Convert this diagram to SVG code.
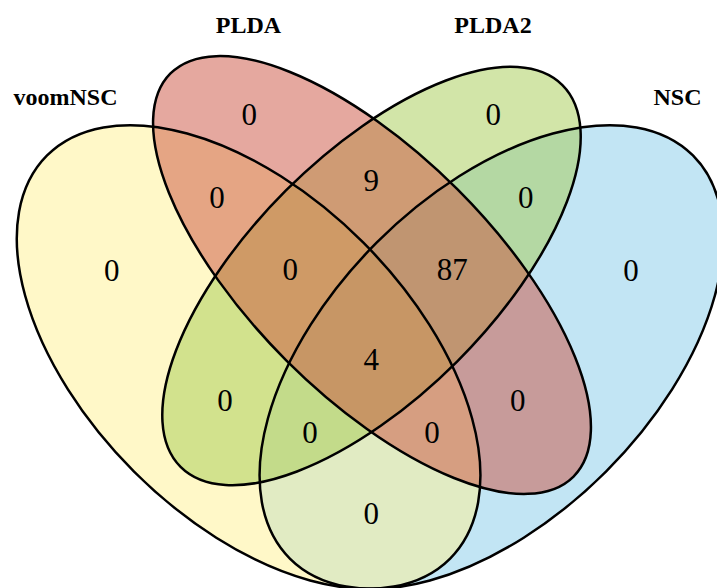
<svg xmlns="http://www.w3.org/2000/svg" width="717" height="588" viewBox="0 0 717 588">
<style>
.fill{fill-opacity:0.5;stroke:none}
.outline{fill:none;stroke:#000;stroke-width:2.5}
.cat{font-family:"Liberation Serif","Times New Roman",serif;font-weight:bold;font-size:24px;fill:#000;text-anchor:middle}
.num{font-family:"Liberation Serif","Times New Roman",serif;font-size:31px;fill:#000;text-anchor:middle}
</style>
<rect width="717" height="588" fill="#fff"/>
<g id="set-NSC">
<ellipse class="fill" cx="491.4" cy="357" rx="285" ry="162" transform="rotate(-45 491.4 357)" fill="#85CBE9"/>
</g>
<g id="set-voomNSC">
<ellipse class="fill" cx="248.6" cy="357" rx="285" ry="162" transform="rotate(45 248.6 357)" fill="#FFF191"/>
</g>
<g id="set-PLDA2">
<ellipse class="fill" cx="371.5" cy="276" rx="270" ry="121" transform="rotate(-45 371.5 276)" fill="#A5CB51"/>
</g>
<g id="set-PLDA">
<ellipse class="fill" cx="372" cy="275" rx="285" ry="121" transform="rotate(45 372 275)" fill="#CB513F"/>
</g>
<g id="outlines">
<ellipse class="outline" cx="491.4" cy="357" rx="285" ry="162" transform="rotate(-45 491.4 357)"/>
<ellipse class="outline" cx="248.6" cy="357" rx="285" ry="162" transform="rotate(45 248.6 357)"/>
<ellipse class="outline" cx="371.5" cy="276" rx="270" ry="121" transform="rotate(-45 371.5 276)"/>
<ellipse class="outline" cx="372" cy="275" rx="285" ry="121" transform="rotate(45 372 275)"/>
</g>
<g id="labels">
<text class="cat" x="65.5" y="104.5">voomNSC</text>
<text class="cat" x="248.5" y="33">PLDA</text>
<text class="cat" x="493" y="33">PLDA2</text>
<text class="cat" x="677.5" y="104.5">NSC</text>
</g>
<g id="counts">
<text class="num" x="111.7" y="280.5">0</text>
<text class="num" x="249.3" y="125">0</text>
<text class="num" x="493.3" y="125">0</text>
<text class="num" x="631" y="280.5">0</text>
<text class="num" x="217" y="207.5">0</text>
<text class="num" x="371.3" y="191">9</text>
<text class="num" x="525.8" y="207.5">0</text>
<text class="num" x="290.3" y="279.5">0</text>
<text class="num" x="452.3" y="280">87</text>
<text class="num" x="371.3" y="370">4</text>
<text class="num" x="225" y="411">0</text>
<text class="num" x="517.7" y="410.5">0</text>
<text class="num" x="310" y="443">0</text>
<text class="num" x="432" y="443">0</text>
<text class="num" x="371.3" y="524">0</text>
</g>
</svg>
